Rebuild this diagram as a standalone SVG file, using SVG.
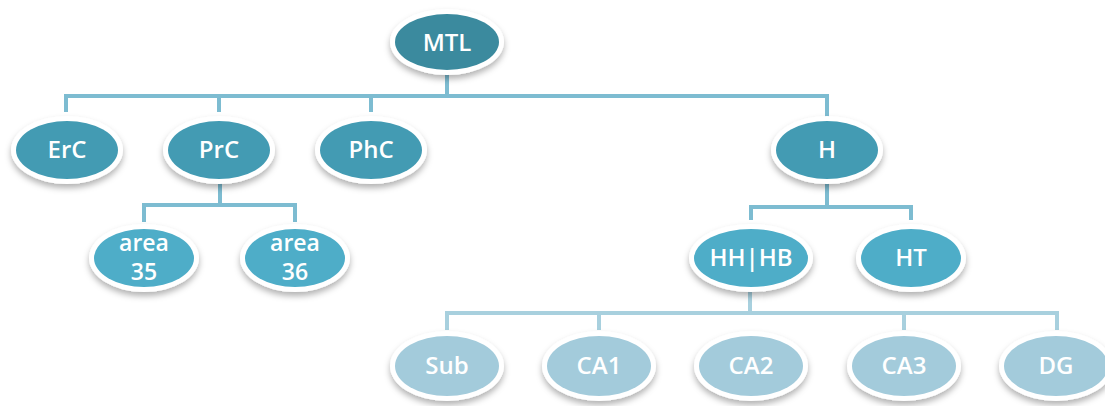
<svg xmlns="http://www.w3.org/2000/svg" width="1105" height="406" viewBox="0 0 1105 406">
<defs>
<filter id="sh" x="-20%" y="-20%" width="140%" height="160%">
<feDropShadow dx="0" dy="4" stdDeviation="3" flood-color="#000" flood-opacity="0.3"/>
</filter>
</defs>
<style>
.rim{fill:#ffffff;filter:url(#sh)}
.l0{fill:#3b8a9e}
.l1{fill:#439bb3}
.l2{fill:#4eadc8}
.l3{fill:#a3cbdb}
.c{fill:none;stroke:#7dbcd1;stroke-width:4}
.c3{fill:none;stroke:#a8d0de;stroke-width:4}
text{font-family:"Open Sans","Noto Sans",sans-serif;font-weight:600;fill:#ffffff;text-anchor:middle;font-size:24px}
.n{font-size:23px}
</style>
<g id="connectors">
<path class="c" d="M447,70 V96 M66,112 V96 H827 V124 M219,96 V112 M371,96 V112"/>
<path class="c" d="M220,178 V205 M144,222 V205 H295 V222"/>
<path class="c" d="M827,178 V207 M751,220 V207 H911 V220"/>
<path class="c3" d="M750,286 V313 M447,330 V313 H1057 V330 M599,313 V330 M904,313 V330"/>
</g>
<g id="MTL"><ellipse class="rim" cx="447" cy="42" rx="57" ry="33"/><ellipse class="l0" cx="447" cy="42" rx="52" ry="28"/><text x="447" y="51">MTL</text></g>
<g id="ErC"><ellipse class="rim" cx="67" cy="150" rx="56" ry="34"/><ellipse class="l1" cx="67" cy="150" rx="51" ry="29"/><text x="67" y="158">ErC</text></g>
<g id="PrC"><ellipse class="rim" cx="219" cy="150" rx="56" ry="34"/><ellipse class="l1" cx="219" cy="150" rx="51" ry="29"/><text x="219" y="158">PrC</text></g>
<g id="PhC"><ellipse class="rim" cx="371" cy="150" rx="56" ry="34"/><ellipse class="l1" cx="371" cy="150" rx="51" ry="29"/><text x="371" y="158">PhC</text></g>
<g id="H"><ellipse class="rim" cx="827" cy="150" rx="56" ry="34"/><ellipse class="l1" cx="827" cy="150" rx="51" ry="29"/><text x="827" y="158">H</text></g>
<g id="area35"><ellipse class="rim" cx="144" cy="258" rx="55" ry="34"/><ellipse class="l2" cx="144" cy="258" rx="50" ry="29"/><text class="n" x="144" y="251">area</text><text class="n" x="144" y="280">35</text></g>
<g id="area36"><ellipse class="rim" cx="295" cy="258" rx="55" ry="34"/><ellipse class="l2" cx="295" cy="258" rx="50" ry="29"/><text class="n" x="295" y="251">area</text><text class="n" x="295" y="280">36</text></g>
<g id="HHHB"><ellipse class="rim" cx="751" cy="258" rx="62" ry="34"/><ellipse class="l2" cx="751" cy="258" rx="57" ry="29"/><text x="751" y="266">HH|HB</text></g>
<g id="HT"><ellipse class="rim" cx="911" cy="258" rx="55" ry="34"/><ellipse class="l2" cx="911" cy="258" rx="50" ry="29"/><text x="911" y="266">HT</text></g>
<g id="Sub"><ellipse class="rim" cx="447" cy="366" rx="57" ry="35"/><ellipse class="l3" cx="447" cy="366" rx="52" ry="30"/><text x="447" y="374">Sub</text></g>
<g id="CA1"><ellipse class="rim" cx="599" cy="366" rx="57" ry="35"/><ellipse class="l3" cx="599" cy="366" rx="52" ry="30"/><text x="599" y="374">CA1</text></g>
<g id="CA2"><ellipse class="rim" cx="751" cy="366" rx="57" ry="35"/><ellipse class="l3" cx="751" cy="366" rx="52" ry="30"/><text x="751" y="374">CA2</text></g>
<g id="CA3"><ellipse class="rim" cx="904" cy="366" rx="57" ry="35"/><ellipse class="l3" cx="904" cy="366" rx="52" ry="30"/><text x="904" y="374">CA3</text></g>
<g id="DG"><ellipse class="rim" cx="1056" cy="366" rx="57" ry="35"/><ellipse class="l3" cx="1056" cy="366" rx="52" ry="30"/><text x="1056" y="374">DG</text></g>
</svg>
